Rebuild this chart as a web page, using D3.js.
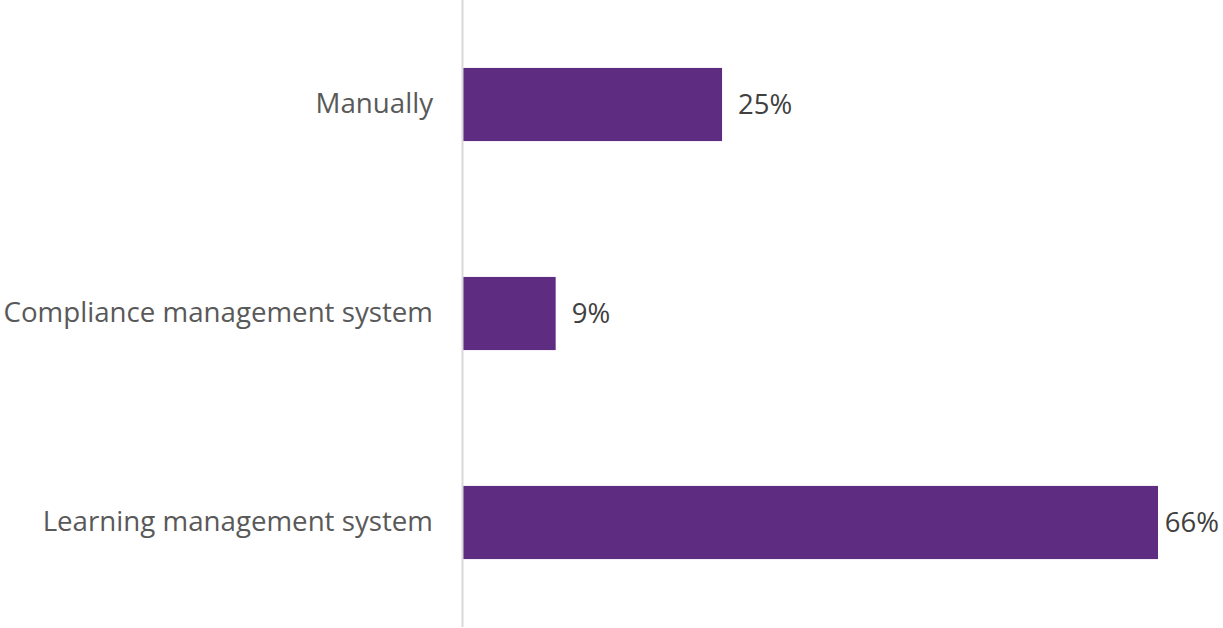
<!DOCTYPE html>
<html>
<head>
<meta charset="utf-8">
<script src="https://cdn.jsdelivr.net/npm/d3@7"></script>
<style>
  body { margin: 0; background: #fff; }
  svg { display: block; font-family: "Open Sans", sans-serif; }
</style>
</head>
<body>
<div class="bar-chart-container"></div>
<script>
// Data
const categories = ['Manually', 'Compliance management system', 'Learning management system'];
const values = [24.6, 8.8, 66];

const totalWidth = 1223;
const totalHeight = 628;
const margin = {top: 0, right: 0, bottom: 1, left: 463};
const width = totalWidth - margin.left - margin.right;
const height = totalHeight - margin.top - margin.bottom;

// Scales
const xScale = d3.scaleLinear([0, 66], [0, 695]);

const yScale = d3.scaleBand()
    .domain(categories)
    .range([0, height])
    .paddingInner(0.65)
    .paddingOuter(0.325);

const svg = d3.select('.bar-chart-container')
    .append('svg')
    .attr('width', totalWidth)
    .attr('height', totalHeight)
    .append('g')
    .attr('transform', `translate(${margin.left}, ${margin.top})`);

// Bars
svg.selectAll('.bar')
    .data(categories)
    .enter()
    .append('rect')
    .attr('class', 'bar')
    .attr('x', 0)
    .attr('y', d => yScale(d))
    .attr('width', (d, i) => xScale(values[i]))
    .attr('height', yScale.bandwidth())
    .style('fill', '#5e2d82');

// Axis (left line + category labels)
const yAxis = d3.axisLeft(yScale).tickSize(0).tickPadding(30);
const yAxisDraw = svg.append('g').attr('class', 'y axis').call(yAxis);
yAxisDraw.select('.domain').attr('stroke', '#d9d9d9').attr('stroke-width', 2)
    .attr('d', `M-0.5,0V${height}`);
yAxisDraw.selectAll('text')
    .style('font-size', '27.7px')
    .style('font-family', '"Open Sans", sans-serif')
    .attr('fill', '#595959');

// Value labels
const fmt = v => d3.format('.0f')(v) + '%';
svg.selectAll('.label')
    .data(categories)
    .enter()
    .append('text')
    .attr('class', 'label')
    .attr('y', d => yScale(d) + yScale.bandwidth() / 2)
    .attr('dy', '0.35em')
    .style('font-size', '27.5px')
    .style('fill', '#404040')
    .text((d, i) => fmt(values[i]))
    .attr('x', function(d, i) {
        const x = xScale(values[i]) + 16;
        const w = this.getComputedTextLength();
        return Math.min(x, width - w - 4);
    });
</script>
</body>
</html>
